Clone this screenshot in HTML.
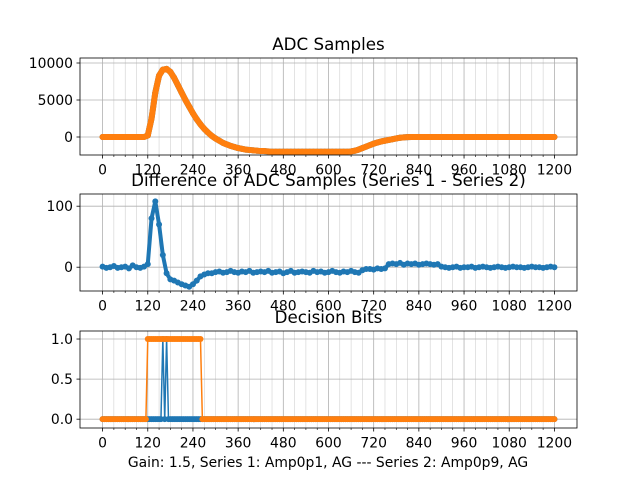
<!DOCTYPE html>
<html><head><meta charset="utf-8"><style>
body{margin:0;background:#fff}
svg{display:block;font-family:"DejaVu Sans","Liberation Sans",sans-serif}
</style></head><body>
<svg id="fig" width="640" height="480" xmlns="http://www.w3.org/2000/svg"></svg>
<script>
// ---- data ----
const xTicks = [0,120,240,360,480,600,720,840,960,1080,1200];
const adcX = []; for (let i=0;i<=120;i++) adcX.push(i*10);
const adcSeries2 = [0,0,0,0,0,0,0,0,0,0,0,0,
 200,2500,6000,8300,9100,9200,8800,8000,7000,6000,5000,4100,3200,2400,1700,1100,600,150,
 -200,-500,-800,-1000,-1200,-1350,-1500,-1600,-1700,-1750,-1800,-1850,-1900,-1900,-1950,
 -2000,-2000,-2000,-2000,-2000,-2000,-2000,-2000,-2000,-2000,-2000,-2000,-2000,-2000,-2000,-2000,-2000,-2000,-2000,-2000,-2000,
 -1950,-1850,-1700,-1500,-1300,-1100,-900,-750,-600,-500,-400,-300,-200,-100,
 -50,-20,0,0,0,0,0,0,0,0,0,0,0,0,0,0,0,0,0,0,0,0,0,0,0,0,0,0,0,0,0,0,0,0,0,0,0,0,0,0,0];
const adcSeries1 = adcSeries2.slice();
const diffValues = [1,-1,0,2,-1,0,1,-2,3,0,-1,1,
 5,80,108,70,20,-10,-20,-22,-25,-28,-30,-32,-28,-22,-15,-12,-10,-10,
 -8,-7,-9,-8,-6,-8,-9,-7,-8,-6,-9,-8,-7,-8,-6,-9,-8,-7,-10,-8,-6,-9,-8,-7,-8,-9,-6,-8,-7,-9,-8,-6,-8,-9,-7,-8,-6,-8,-9,
 -5,-3,-3,-4,-2,-3,-2,5,6,5,7,4,6,5,6,4,5,6,5,4,5,
 1,0,-1,0,1,-1,0,0,1,-1,0,1,0,-1,0,1,0,-1,0,1,0,0,-1,0,1,0,0,-1,0,1,0];
const bitsX = []; for (let i=0;i<=240;i++) bitsX.push(i*5);
const bitsSeries1 = ("0".repeat(32)+"1"+"0"+"1"+"0".repeat(206)).split("").map(Number);
const bitsSeries2 = ("0".repeat(24)+"1".repeat(29)+"0".repeat(188)).split("").map(Number);

const NS="http://www.w3.org/2000/svg";
const svg=document.getElementById('fig');
function el(tag,attrs,parent){const e=document.createElementNS(NS,tag);for(const k in attrs)e.setAttribute(k,attrs[k]);(parent||svg).appendChild(e);return e;}
const X0=80,X1=577,XMIN=-60,XMAX=1260;
const sx=v=>X0+(v-XMIN)/(XMAX-XMIN)*(X1-X0);
const BLUE="#1f77b4",ORANGE="#ff7f0e";

function panel(name,top,bot,ymin,ymax,yTicks,yLabels,title,series){
  const g=el('g',{});
  
  
  const sy=v=>bot-(v-ymin)/(ymax-ymin)*(bot-top);
  for(let v=0;v<=1200;v+=30){ if(v%120===0) continue;
    const l=el('line',{x1:sx(v),x2:sx(v),y1:top,y2:bot,stroke:"#b0b0b0","stroke-width":0.5,opacity:0.7},g);
     
    el('line',{x1:sx(v),x2:sx(v),y1:bot,y2:bot+2,stroke:"#000","stroke-width":0.6},g);
  }
  xTicks.forEach(v=>{
    const l=el('line',{x1:sx(v),x2:sx(v),y1:top,y2:bot,stroke:"#b0b0b0","stroke-width":0.8},g);
     
    el('line',{x1:sx(v),x2:sx(v),y1:bot,y2:bot+3.5,stroke:"#000","stroke-width":0.8},g);
    const t=el('text',{x:sx(v),y:bot+19.5,"font-size":13.9,"text-anchor":"middle"},g); t.textContent=v;
     
  });
  yTicks.forEach((v,i)=>{
    const l=el('line',{x1:X0,x2:X1,y1:sy(v),y2:sy(v),stroke:"#b0b0b0","stroke-width":0.8},g);
     
    el('line',{x1:X0-3.5,x2:X0,y1:sy(v),y2:sy(v),stroke:"#000","stroke-width":0.8},g);
    const t=el('text',{x:X0-7,y:sy(v)+5,"font-size":13.9,"text-anchor":"end"},g); t.textContent=yLabels[i];
     
  });
  series.forEach(s=>{
    const n=Math.min(s.x.length,s.y.length);
    const pts=[];
    for(let i=0;i<n;i++) pts.push(sx(s.x[i]).toFixed(2)+","+sy(s.y[i]).toFixed(2));
    const pl=el('polyline',{points:pts.join(" "),fill:"none",stroke:s.c,"stroke-width":s.w,"stroke-linejoin":"round","stroke-linecap":"round"},g);
     
    for(let i=0;i<n;i++){
      const c=el('circle',{cx:sx(s.x[i]),cy:sy(s.y[i]),r:s.r,fill:s.c},g);
       
    }
  });
  el('rect',{x:X0,y:top,width:X1-X0,height:bot-top,fill:"none",stroke:"#000","stroke-width":0.8},g);
  const t=el('text',{x:(X0+X1)/2,y:top-8,"font-size":16.7,"text-anchor":"middle"},g); t.textContent=title;
   
}
panel('adc-panel',58,155,-2432,10676,[0,5000,10000],["0","5000","10000"],"ADC Samples",
 [{x:adcX,y:adcSeries1,c:BLUE,n:'adc-series1',w:6,r:3},{x:adcX,y:adcSeries2,c:ORANGE,n:'adc-series2',w:6,r:3}]);
panel('difference-panel',194,291,-39,120,[0,100],["0","100"],"Difference of ADC Samples (Series 1 - Series 2)",
 [{x:adcX,y:diffValues,c:BLUE,n:'difference',w:4,r:3}]);
panel('decision-panel',331,428,-0.11,1.1,[0,0.5,1],["0.0","0.5","1.0"],"Decision Bits",
 [{x:bitsX,y:bitsSeries1,c:BLUE,n:'bits-series1',w:1.5,r:3},{x:bitsX,y:bitsSeries2,c:ORANGE,n:'bits-series2',w:1.5,r:3}]);
const xl=el('text',{x:328,y:467,"font-size":13.9,"text-anchor":"middle"});
xl.textContent="Gain: 1.5, Series 1: Amp0p1, AG --- Series 2: Amp0p9, AG";


</script>
</body></html>
